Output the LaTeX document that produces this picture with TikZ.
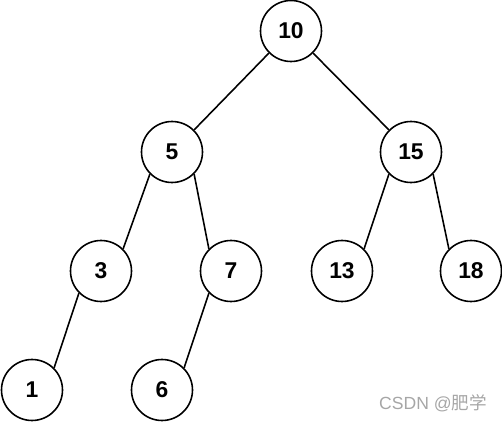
\documentclass[tikz,border=0pt]{standalone}
\usepackage{fontspec}
\setmainfont{Liberation Sans}
\newfontfamily\cjk{Noto Sans CJK SC}
\usepackage{tikz}

\tikzset{
    key/.style={circle,draw,line width=0.9pt,minimum size=1.22cm,inner sep=0pt,
        font=\fontsize{13}{15}\selectfont\bfseries},
    branch/.style={line width=0.9pt}
}

\begin{document}
\begin{tikzpicture}
    \useasboundingbox (0,0) rectangle (10.04,8.42);

    \node[key] (k10) at (5.82,7.80) {10};
    \node[key] (k5) at (3.44,5.38) {5};
    \node[key] (k15) at (8.22,5.38) {15};
    \node[key] (k3) at (2.02,3.00) {3};
    \node[key] (k7) at (4.62,3.00) {7};
    \node[key] (k13) at (6.84,3.00) {13};
    \node[key] (k18) at (9.42,3.00) {18};
    \node[key] (k1) at (0.64,0.62) {1};
    \node[key] (k6) at (3.24,0.62) {6};

    \draw[branch] (k10.-135) -- (k5.45);
    \draw[branch] (k10.-45) -- (k15.135);
    \draw[branch] (k5.-135) -- (k3.45);
    \draw[branch] (k5.-45) -- (k7.135);
    \draw[branch] (k15.-135) -- (k13.45);
    \draw[branch] (k15.-45) -- (k18.135);
    \draw[branch] (k3.-135) -- (k1.45);
    \draw[branch] (k7.-135) -- (k6.45);

    \node[text=black!35,font=\fontsize{10}{12}\selectfont] (mark) at (8.66,0.36) {CSDN @\cjk 肥学};
\end{tikzpicture}
\end{document}
